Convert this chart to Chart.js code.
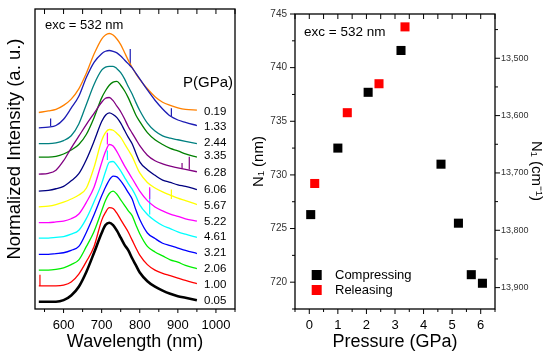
<!DOCTYPE html>
<html><head><meta charset="utf-8">
<script src="https://cdn.jsdelivr.net/npm/chart.js@4.4.1/dist/chart.umd.min.js"></script>
<style>
html,body{margin:0;padding:0;background:#fff;}
#wrap{position:relative;width:550px;height:357px;overflow:hidden;}
#c1{position:absolute;left:0;top:0;}
#c2{position:absolute;left:250px;top:0;}
</style></head><body>
<div id="wrap">
<canvas id="c1" width="250" height="357"></canvas>
<canvas id="c2" width="300" height="357"></canvas>
</div>
<script>
// ---------- Left panel data (normalized intensity) ----------
const wavelengths = [535,560,580,600,620,640,660,680,700,710,720,730,740,750,760,770,780,790,800,820,840,860,880,900,920,950];
const p005 = [0,0,0,0.02,0.08,0.19,0.38,0.62,0.87,0.97,1.00,0.97,0.90,0.81,0.72,0.65,0.55,0.46,0.37,0.26,0.19,0.14,0.10,0.07,0.05,0.02];
const p100 = [0,0,0,0.01,0.05,0.15,0.31,0.50,0.83,0.93,0.99,0.98,0.92,0.84,0.76,0.68,0.58,0.48,0.39,0.27,0.20,0.16,0.13,0.10,0.07,0.03];
const p206 = [0,0,0.01,0.03,0.07,0.13,0.30,0.49,0.75,0.88,0.97,1.00,0.96,0.89,0.82,0.75,0.69,0.57,0.46,0.30,0.23,0.18,0.13,0.10,0.06,0.02];
const p321 = [0,0,0.01,0.02,0.05,0.10,0.28,0.50,0.74,0.85,0.94,0.99,0.98,0.93,0.86,0.78,0.70,0.56,0.44,0.27,0.20,0.14,0.11,0.08,0.05,0.01];
const p461 = [0,0,0.01,0.02,0.05,0.10,0.25,0.46,0.69,0.84,0.96,0.97,0.92,0.85,0.77,0.69,0.62,0.53,0.42,0.30,0.22,0.16,0.12,0.08,0.05,0.01];
const p522 = [0,0,0.01,0.02,0.05,0.11,0.26,0.45,0.76,0.90,0.99,0.97,0.90,0.81,0.72,0.64,0.56,0.48,0.40,0.28,0.20,0.15,0.11,0.08,0.05,0.02];
const p567 = [0,0.01,0.03,0.06,0.10,0.15,0.24,0.50,0.84,0.94,0.98,0.97,0.93,0.88,0.80,0.72,0.64,0.53,0.43,0.31,0.24,0.19,0.15,0.11,0.08,0.03];
const p606 = [0,0.01,0.03,0.06,0.13,0.22,0.40,0.63,0.88,0.96,0.99,0.97,0.93,0.86,0.77,0.68,0.60,0.48,0.37,0.27,0.20,0.14,0.11,0.08,0.06,0.02];
const p628 = [0,0.01,0.05,0.17,0.33,0.48,0.63,0.77,0.91,0.96,0.97,0.93,0.86,0.79,0.70,0.60,0.52,0.44,0.36,0.24,0.17,0.13,0.10,0.08,0.06,0.03];
const p335 = [0,0,0.01,0.04,0.09,0.16,0.29,0.50,0.75,0.84,0.91,0.95,0.96,0.91,0.84,0.75,0.64,0.53,0.45,0.31,0.22,0.16,0.11,0.08,0.04,0.00];
const p244 = [0,0,0.01,0.04,0.10,0.25,0.50,0.75,0.93,0.97,0.98,0.98,0.95,0.90,0.82,0.72,0.63,0.52,0.42,0.26,0.16,0.10,0.07,0.05,0.03,0.00];
const p133 = [0,0.01,0.03,0.11,0.25,0.40,0.64,0.83,0.94,0.97,0.98,0.97,0.95,0.91,0.86,0.81,0.76,0.69,0.62,0.48,0.35,0.24,0.15,0.10,0.07,0.03];
const p019 = [0,0.02,0.04,0.09,0.17,0.30,0.50,0.74,0.93,0.98,1.00,0.98,0.93,0.86,0.76,0.66,0.57,0.49,0.42,0.30,0.20,0.13,0.09,0.06,0.04,0.03];

// bottom to top
const spectra = [p005,p100,p206,p321,p461,p522,p567,p606,p628,p335,p244,p133,p019];
const pressureLabels = ['0.05','1.00','2.06','3.21','4.61','5.22','5.67','6.06','6.28','3.35','2.44','1.33','0.19'];
const curveOffsets = [0,0.2,0.4,0.6,0.805,1.0,1.2,1.4,1.615,1.83,2.0,2.2,2.395];
const curveColors = ['#000000','#ff0000','#00ee00','#0000ff','#00ffff','#ff00ff','#ffff00','#000080','#800080','#008000','#008080','#1c1cb4','#ff8000'];
// narrow spikes: [curve index, wavelength, bottom, top]
const spikes = [[1,538,0,0.14],[11,566,0.02,0.12],[11,775,0.79,1.0],[11,883,0.15,0.25],
  [8,911,0.07,0.14],[8,930,0.06,0.22],[5,715,0.99,1.14],[5,826,0.30,0.45],
  [4,715,0.99,1.11],[4,826,0.30,0.62],[6,883,0.10,0.22]];
const waveTicks = [600,700,800,900,1000];
const waveMinorTicks = [550,650,750,850,950,1050];

// ---------- Right panel data ----------
const compP = [0.05,1.00,2.06,3.21,4.61,5.22,5.67,6.06];
const compN = [726.3,732.5,737.7,741.6,731.0,725.5,720.7,719.9];
const relP = [0.19,1.33,2.44,3.35];
const relN = [729.2,735.8,738.5,743.8];
const pressTicks = [0,1,2,3,4,5,6];
const pressMinorTicks = [-0.5,0.5,1.5,2.5,3.5,4.5,5.5,6.5];
const nmTicks = [720,725,730,735,740,745];
const nmMinorTicks = [717.5,722.5,727.5,732.5,737.5,742.5];
const cmTicks = [13500,13600,13700,13800,13900];
const cmMinorTicks = [13450,13550,13650,13750,13850];

const FONT = '"Liberation Sans", Arial, Helvetica, sans-serif';
Chart.defaults.font.family = FONT;
Chart.defaults.color = '#000';

// ---------- left chart ----------
const leftSets = spectra.map((vals,i)=>({
  label: pressureLabels[i]+' GPa',
  data: wavelengths.map((w,j)=>({x:w, y: vals[j]+curveOffsets[i]})),
  borderColor: curveColors[i], borderWidth: i===0?2.6:1.3,
  pointRadius:0, cubicInterpolationMode:'monotone', fill:false
}));
spikes.forEach(s=>leftSets.push({
  label:'spike',
  data:[{x:s[1],y:curveOffsets[s[0]]+s[2]},{x:s[1],y:curveOffsets[s[0]]+s[3]}],
  borderColor: curveColors[s[0]], borderWidth:1.2, pointRadius:0
}));

function vline(ctx,px,y0,y1){ctx.moveTo(px,y0);ctx.lineTo(px,y1);}
function hline(ctx,py,x0,x1){ctx.moveTo(x0,py);ctx.lineTo(x1,py);}

const leftDecor = {
  id:'leftDecor',
  afterDatasetsDraw(chart){
    const {ctx, chartArea:a, scales:{x,y}} = chart;
    ctx.save();
    ctx.strokeStyle='#000'; ctx.lineWidth=1.3;
    ctx.strokeRect(a.left,a.top,a.right-a.left,a.bottom-a.top);
    ctx.lineWidth=1; ctx.beginPath();
    waveTicks.forEach(v=>{const p=x.getPixelForValue(v); vline(ctx,p,a.bottom,a.bottom+4); vline(ctx,p,a.top,a.top+5);});
    waveMinorTicks.forEach(v=>{const p=x.getPixelForValue(v); vline(ctx,p,a.bottom,a.bottom+3); vline(ctx,p,a.top,a.top+5);});
    ctx.stroke();
    ctx.fillStyle='#000'; ctx.textBaseline='middle'; ctx.textAlign='left';
    ctx.font='13px '+FONT; ctx.fillText('exc = 532 nm',45,25);
    ctx.font='15px '+FONT; ctx.fillText('P(GPa)',183,83);
    ctx.font='11.5px '+FONT;
    pressureLabels.forEach((t,i)=>ctx.fillText(t,204,y.getPixelForValue(curveOffsets[i])-1));
    ctx.save(); ctx.translate(15,149); ctx.rotate(-Math.PI/2);
    ctx.textAlign='center'; ctx.font='18.5px '+FONT;
    ctx.fillText('Normalized Intensity (a. u.)',0,0); ctx.restore();
    ctx.restore();
  }
};

new Chart(document.getElementById('c1'),{
  type:'line',
  data:{datasets:leftSets},
  options:{
    responsive:false, animation:false,
    layout:{padding:{left:35,right:15,top:9,bottom:0}},
    plugins:{legend:{display:false},tooltip:{enabled:false}},
    scales:{
      x:{type:'linear',min:525,max:1050,
        grid:{display:false,drawTicks:false},border:{display:false},
        ticks:{padding:9,font:{size:13},color:'#000',callback:v=>String(v)},
        afterBuildTicks:s=>{s.ticks=waveTicks.map(v=>({value:v}));},
        afterFit:s=>{s.height=48;},
        title:{display:true,text:'Wavelength (nm)',font:{size:18},padding:{top:0,bottom:4}}},
      y:{type:'linear',display:false,min:-0.092,max:3.705}
    }
  },
  plugins:[leftDecor]
});

// ---------- right chart ----------
const rightDecor = {
  id:'rightDecor',
  afterDatasetsDraw(chart){
    const {ctx, chartArea:a, scales:{x,y,y2}} = chart;
    ctx.save();
    ctx.strokeStyle='#000'; ctx.lineWidth=1.3;
    ctx.strokeRect(a.left,a.top,a.right-a.left,a.bottom-a.top);
    ctx.lineWidth=1; ctx.beginPath();
    pressTicks.forEach(v=>{const p=x.getPixelForValue(v); vline(ctx,p,a.bottom,a.bottom+5); vline(ctx,p,a.top,a.top+5);});
    pressMinorTicks.forEach(v=>{const p=x.getPixelForValue(v); vline(ctx,p,a.bottom,a.bottom+3); vline(ctx,p,a.top,a.top+5);});
    nmTicks.forEach(v=>{const p=y.getPixelForValue(v); hline(ctx,p,a.left-5,a.left);});
    nmMinorTicks.forEach(v=>{const p=y.getPixelForValue(v); hline(ctx,p,a.left-3,a.left);});
    cmTicks.forEach(v=>{const p=y2.getPixelForValue(v); hline(ctx,p,a.right,a.right+5);});
    cmMinorTicks.forEach(v=>{const p=y2.getPixelForValue(v); hline(ctx,p,a.right,a.right+3);});
    ctx.stroke();
    ctx.fillStyle='#000'; ctx.textBaseline='middle'; ctx.textAlign='left';
    ctx.font='13.5px '+FONT; ctx.fillText('exc = 532 nm',54,32);
    // legend
    ctx.font='13px '+FONT;
    chart.data.datasets.forEach((d,i)=>{
      const cy = 275 + i*15;
      ctx.fillStyle=d.backgroundColor; ctx.fillRect(61.7,cy-5,10,10);
      ctx.fillStyle='#000'; ctx.fillText(d.label,85,cy);
    });
    ctx.save(); ctx.translate(286,171); ctx.rotate(Math.PI/2);
    ctx.textAlign='center'; ctx.font='15px '+FONT;
    ctx.fillText('N\u2081 (cm\u207B\u00B9)',0,0); ctx.restore();
    ctx.restore();
  }
};

new Chart(document.getElementById('c2'),{
  type:'scatter',
  data:{datasets:[
    {label:'Compressing',data:compP.map((p,i)=>({x:p,y:compN[i]})),backgroundColor:'#000000',borderColor:'#000000',pointStyle:'rect',pointRadius:6.4,borderWidth:0},
    {label:'Releasing',data:relP.map((p,i)=>({x:p,y:relN[i]})),backgroundColor:'#ff0000',borderColor:'#ff0000',pointStyle:'rect',pointRadius:6.4,borderWidth:0}
  ]},
  options:{
    responsive:false, animation:false,
    layout:{padding:{left:0,right:0,top:9,bottom:0}},
    plugins:{legend:{display:false},tooltip:{enabled:false}},
    scales:{
      x:{type:'linear',min:-0.5,max:6.5,
        grid:{display:false,drawTicks:false},border:{display:false},
        ticks:{padding:9,font:{size:13},color:'#000',callback:v=>String(v)},
        afterBuildTicks:s=>{s.ticks=pressTicks.map(v=>({value:v}));},
        afterFit:s=>{s.height=48;},
        title:{display:true,text:'Pressure (GPa)',font:{size:18},padding:{top:0,bottom:4}}},
      y:{type:'linear',position:'left',min:717.5,max:745,
        grid:{display:false,drawTicks:false},border:{display:false},
        ticks:{padding:8,font:{size:10},color:'#333',callback:v=>String(v)},
        afterBuildTicks:s=>{s.ticks=nmTicks.map(v=>({value:v}));},
        afterFit:s=>{s.width=45;},
        title:{display:true,text:'N\u2081 (nm)',font:{size:15},padding:{top:0,bottom:0}}},
      y2:{type:'linear',position:'right',reverse:true,min:1e7/745,max:1e7/717.5,
        grid:{display:false,drawTicks:false},border:{display:false},
        ticks:{padding:6,font:{size:9},color:'#333',callback:v=>v.toLocaleString('en-US')},
        afterBuildTicks:s=>{s.ticks=cmTicks.map(v=>({value:v}));},
        afterFit:s=>{s.width=55;}}
    }
  },
  plugins:[rightDecor]
});
</script>
</body></html>
